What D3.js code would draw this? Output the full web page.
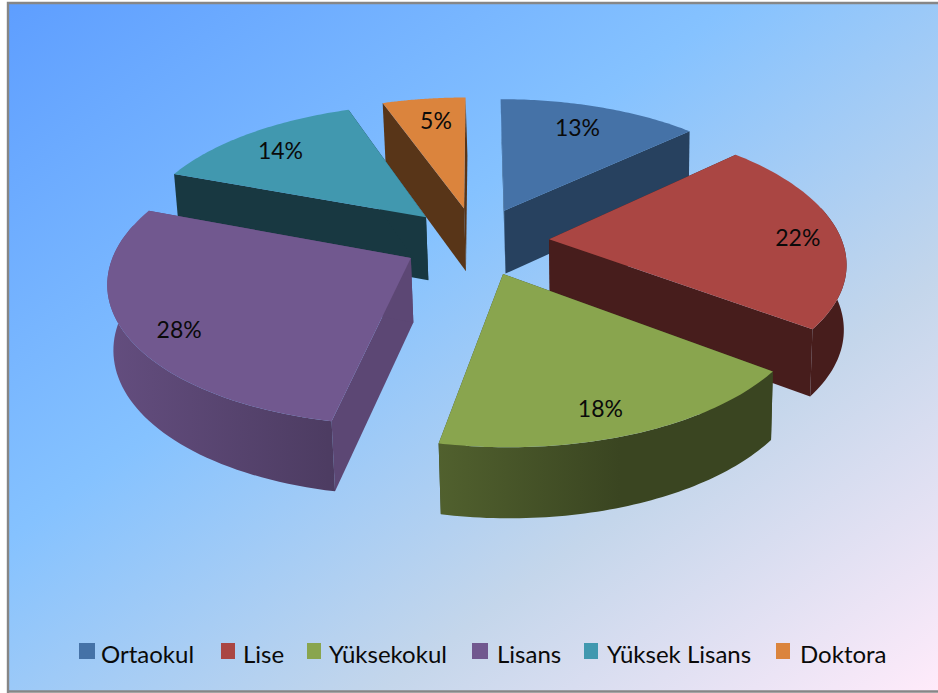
<!DOCTYPE html>
<html><head><meta charset="utf-8">
<script src="https://cdn.jsdelivr.net/npm/d3@7"></script>
<style>html,body{margin:0;padding:0;background:#fff}svg{display:block}text{font-family:Lato,"Noto Sans",sans-serif;fill:#0a0a0a}</style>
</head><body><svg id="c" width="938" height="693"></svg>
<script>
const categories = ["Ortaokul","Lise","Yüksekokul","Lisans","Yüksek Lisans","Doktora"];
const values = [13,22.3,17.8,27.6,13.9,5.4];
const colors = ["#4572a7","#aa4643","#89a54e","#71588f","#4198af","#db843d"];
const wallShade = [0.57,0.42,0.42,0.81,0.37,0.40];
const labelRadius = [0.74,0.87,0.80,0.84,0.78,0.72];
const labelDx = [0,-3,-4,6,-5,2];
const labelDy = [-4,5,11,10,0,-6];
const paintOrder = [0,5,4,1,3,2];
const legendX = [79,221,307,472,584,776];
const legendW = [16,14,14,16,14,14];
const legendTextX = [101,243,329,497,607,800];
const bgStops = [[0,"#5e9eff"],[0.39,"#85c2ff"],[0.7,"#c4d6eb"],[1,"#ffebfa"]];

const svg = d3.select("#c"), defs = svg.append("defs");
const W=938,H=693;
const bg = defs.append("linearGradient").attr("id","bg").attr("x1",0).attr("y1",0).attr("x2",1).attr("y2",1);
bgStops.forEach(s=>bg.append("stop").attr("offset",s[0]).attr("stop-color",s[1]));
svg.append("rect").attr("x",8).attr("y",3).attr("width",W-8).attr("height",H-5).attr("fill","url(#bg)");
svg.append("path").attr("d",`M8,${H}V3H${W}M8,${H-1.5}H${W}`).attr("fill","none").attr("stroke","#868686").attr("stroke-width",2.4);

// projection of the tilted pie
const cx=476,cy=241,CX=293,CY=136.5,B=0.149,EXPLODE=0.25,DEPTH=64,VANISH=620,PINCH=0.012;
const den=v=>1+B*v;
const xs=d3.scaleLinear().domain([0,1]).range([cx,cx+CX]);
const ys=d3.scaleLinear().domain([0,1]).range([cy,cy-CY]);
function proj(u,v,low){
  let x=xs(u/den(v)), y=ys(v/den(v));
  if(low){ y+=DEPTH/(1+0.08*v); x=x-(x-VANISH)*PINCH; }
  return [x,y];
}
const pie=d3.pie().sort(null).value(d=>d);
const arcs=pie(values);
const line=d3.line();
function pt(d,r,a,low){
  const m=(d.startAngle+d.endAngle)/2;
  return proj(r*Math.sin(a)+EXPLODE*Math.sin(m), r*Math.cos(a)+EXPLODE*Math.cos(m), low);
}
function arcAngles(d){ return d3.range(0,61).map(i=>d.startAngle+(d.endAngle-d.startAngle)*i/60); }

function shade(c,k){const r=d3.rgb(c);return d3.rgb(r.r*k,r.g*k,r.b*k).formatHex();}
paintOrder.forEach(i=>{
  const d=arcs[i], col=colors[i], g=svg.append("g");
  const grad=defs.append("linearGradient").attr("id","w"+i).attr("gradientUnits","userSpaceOnUse")
    .attr("x1",113).attr("x2",620).attr("y1",0).attr("y2",0);
  grad.append("stop").attr("offset",0).attr("stop-color",shade(col,0.88));
  grad.append("stop").attr("offset",1).attr("stop-color",shade(col,0.42));
  // radial walls
  [d.startAngle,d.endAngle].forEach(a=>{
    const p=[pt(d,0,a,false),pt(d,1,a,false),pt(d,1,a,true),pt(d,0,a,true)];
    g.append("path").attr("d",line(p)+"Z").attr("fill",shade(col,wallShade[i]));
  });
  // outer wall, front-facing part only
  const vis=arcAngles(d).filter(a=>Math.cos(a)<0.25);
  if(vis.length>1){
    const p=vis.map(a=>pt(d,1,a,false)).concat(vis.slice().reverse().map(a=>pt(d,1,a,true)));
    g.append("path").attr("d",line(p)+"Z").attr("fill",`url(#w${i})`);
  }
  // top
  const top=[pt(d,0,0,false)].concat(arcAngles(d).map(a=>pt(d,1,a,false)));
  g.append("path").attr("d",line(top)+"Z").attr("fill",col);
});
arcs.forEach((d,i)=>{
  const m=(d.startAngle+d.endAngle)/2, p=pt(d,labelRadius[i],m,false);
  svg.append("text").attr("x",p[0]+labelDx[i]).attr("y",p[1]+labelDy[i]).attr("dy","0.35em").attr("text-anchor","middle")
    .attr("font-size",23).text(Math.round(values[i])+"%");
});
categories.forEach((c,i)=>{
  svg.append("rect").attr("x",legendX[i]).attr("y",643).attr("width",legendW[i]).attr("height",16).attr("fill",colors[i]);
  svg.append("text").attr("x",legendTextX[i]).attr("y",663).attr("font-size",24).text(c);
});
</script></body></html>
